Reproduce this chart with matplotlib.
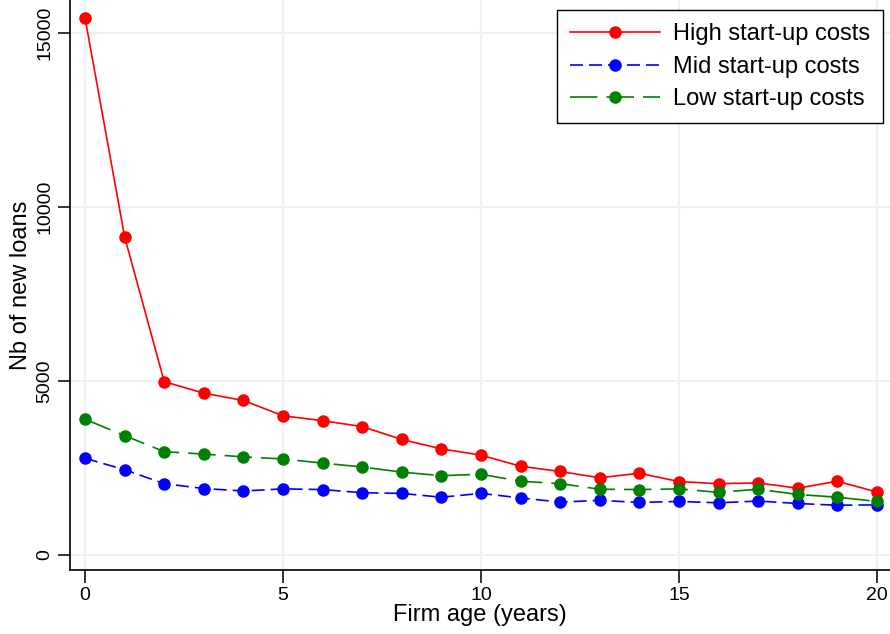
import matplotlib
matplotlib.use('Agg')
import matplotlib.pyplot as plt

plt.rcParams['font.family'] = ['Liberation Sans', 'DejaVu Sans']

# Number of new loans by firm age, per start-up cost group
firm_age = list(range(21))
high_costs = [15430, 9140, 4980, 4650, 4440, 4000, 3860, 3690, 3320, 3050, 2870,
              2550, 2400, 2220, 2350, 2110, 2050, 2070, 1920, 2120, 1810]
mid_costs = [2780, 2450, 2050, 1910, 1840, 1900, 1880, 1790, 1770, 1660, 1770,
             1640, 1520, 1570, 1510, 1540, 1500, 1550, 1480, 1430, 1440]
low_costs = [3900, 3430, 2970, 2900, 2820, 2760, 2640, 2530, 2380, 2280, 2320,
             2120, 2050, 1890, 1880, 1900, 1800, 1890, 1740, 1660, 1540]
series_labels = ['High start-up costs', 'Mid start-up costs', 'Low start-up costs']

x_ticks = [0, 5, 10, 15, 20]
y_ticks = [0, 5000, 10000, 15000]

fig = plt.figure(figsize=(8.9, 6.34), dpi=100)
ax = fig.add_axes([70 / 890, 64 / 634, 820 / 890, 570 / 634])

lw = 1.2
ax.plot(firm_age, high_costs, color='#ff0000', linestyle='-', linewidth=lw,
        marker='o', markersize=8, label=series_labels[0])
ax.plot(firm_age, mid_costs, color='#0000ff', linestyle=(0, (7.8, 3.6)), linewidth=lw,
        marker='o', markersize=8, label=series_labels[1])
ax.plot(firm_age, low_costs, color='#008000', linestyle=(0, (16.5, 5.4)), linewidth=lw,
        marker='o', markersize=8, label=series_labels[2])

ax.set_xlim(-0.38, 20.33)
ax.set_ylim(-431, 15948)
ax.set_xticks(x_ticks)
ax.set_yticks(y_ticks)
ax.grid(True, color='#eaf2f3', linewidth=1.5)
ax.set_axisbelow(True)

for side in ['top', 'right']:
    ax.spines[side].set_visible(False)
for side in ['left', 'bottom']:
    ax.spines[side].set_linewidth(1.2)

ax.tick_params(axis='both', direction='out', length=9, width=1.1, labelsize=14)
ax.tick_params(axis='x', pad=3)
ax.tick_params(axis='y', labelrotation=90, pad=3)
for lab in ax.get_yticklabels():
    lab.set_va('center')

ax.set_xlabel('Firm age (years)', fontsize=17, labelpad=0)
ax.set_ylabel('Nb of new loans', fontsize=17, labelpad=3)

leg = ax.legend(loc='upper right', bbox_to_anchor=(0.9915, 0.982), fontsize=17,
                frameon=True, fancybox=False, edgecolor='black', framealpha=1,
                handlelength=3.8, borderpad=0.55, labelspacing=0.45,
                handletextpad=0.55, borderaxespad=0)
leg.get_frame().set_linewidth(1.0)

fig.savefig('out.png', dpi=100)
